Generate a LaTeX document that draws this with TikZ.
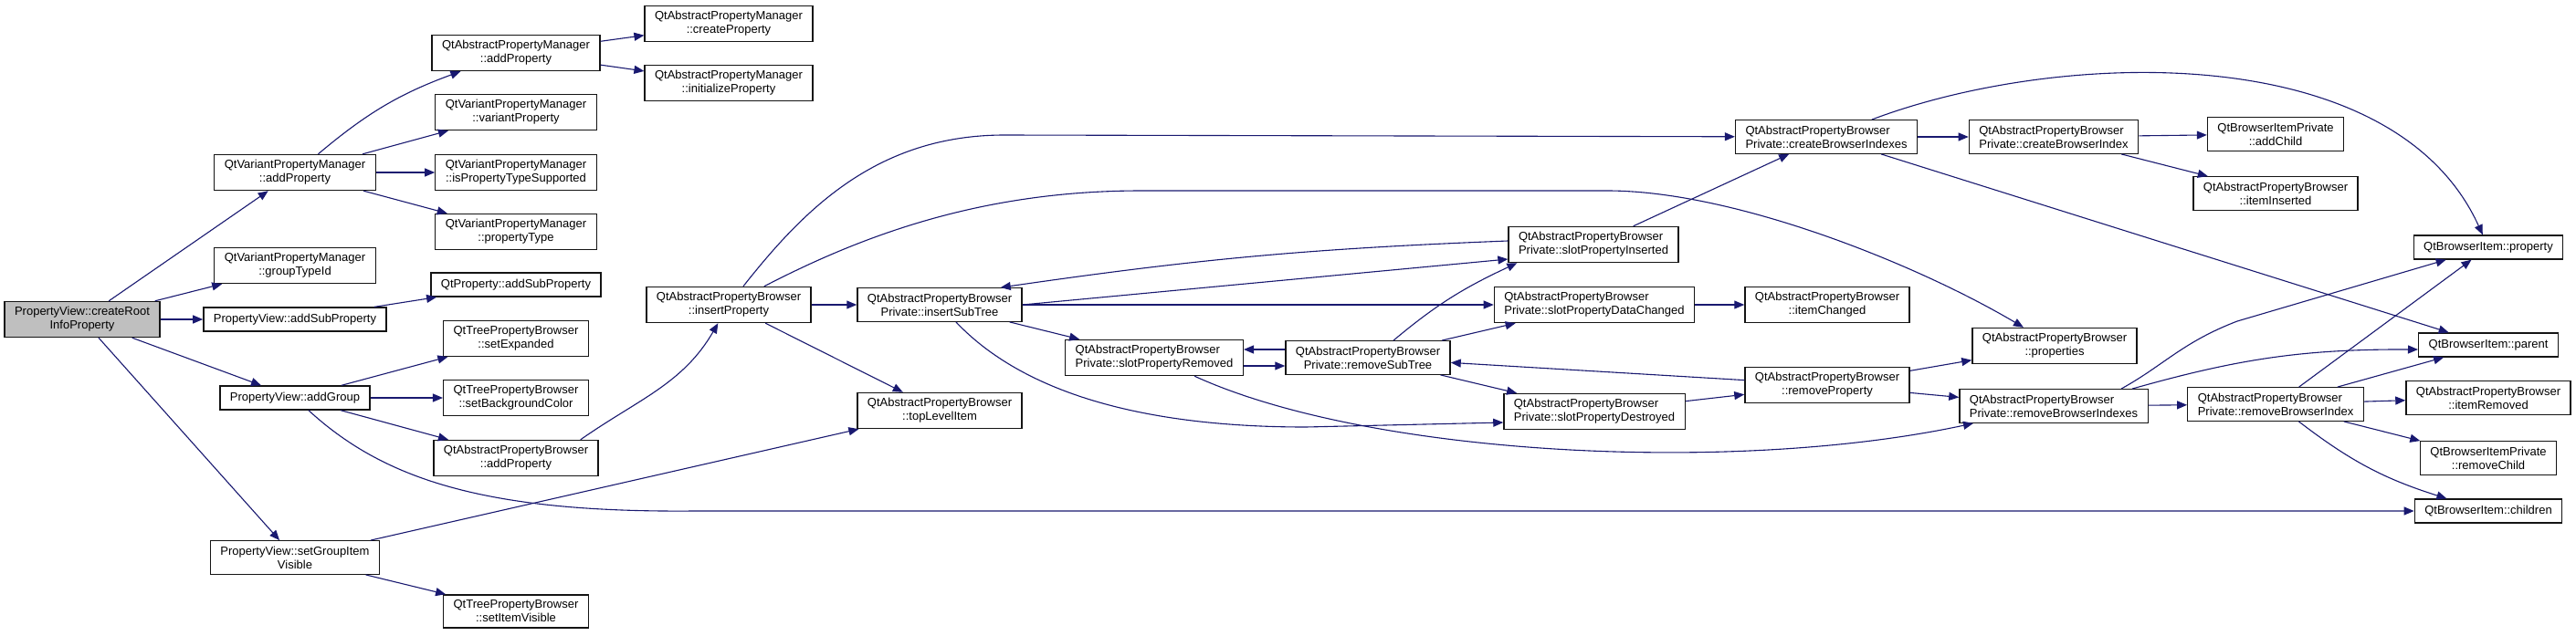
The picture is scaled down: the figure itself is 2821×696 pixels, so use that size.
\documentclass[tikz,border=0pt]{standalone}
\usepackage{fontspec}
\setmainfont{Liberation Sans}
\usepackage{tikz}
\usetikzlibrary{arrows.meta}

\definecolor{edgecolor}{RGB}{25, 25, 112}
\definecolor{rootfill}{RGB}{191, 191, 191}
\definecolor{boxborder}{RGB}{20, 20, 20}

\tikzset{
fnbox/.style={
  draw=boxborder,
  fill=white,
  line width=0.65pt,
  inner xsep=5.5pt,
  inner ysep=3pt,
  minimum height=13pt,
  align=center,
  font=\fontsize{6.5}{7.5}\selectfont
},
fnboxl/.style={
  fnbox,
  align=left
},
rootbox/.style={
  fnbox,
  fill=rootfill
},
call/.style={
  -{Triangle[length=5.5pt,width=4.5pt]},
  line width=0.55pt,
  draw=edgecolor
}
}

\begin{document}
\begin{tikzpicture}[x=0.5pt,y=-0.5pt]
  \path[use as bounding box,fill=white] (0,0) rectangle (2821,696);

  % callers and first level
  \node[rootbox] (root) at (90,350) {PropertyView::createRoot\\InfoProperty};
  \node[fnbox] (vpmAdd) at (323,189) {QtVariantPropertyManager\\::addProperty};
  \node[fnbox] (vpmGroup) at (323,291) {QtVariantPropertyManager\\::groupTypeId};
  \node[fnbox] (pvSub) at (323,350) {PropertyView::addSubProperty};
  \node[fnbox] (pvGroup) at (323,436) {PropertyView::addGroup};
  \node[fnbox] (pvVis) at (323,611) {PropertyView::setGroupItem\\Visible};

  % second column
  \node[fnbox] (apmAdd) at (565,58) {QtAbstractPropertyManager\\::addProperty};
  \node[fnbox] (vpmVar) at (565,123) {QtVariantPropertyManager\\::variantProperty};
  \node[fnbox] (vpmSupp) at (565,189) {QtVariantPropertyManager\\::isPropertyTypeSupported};
  \node[fnbox] (vpmType) at (565,254) {QtVariantPropertyManager\\::propertyType};
  \node[fnbox] (qpSub) at (565,312) {QtProperty::addSubProperty};
  \node[fnbox] (tpbExp) at (565,371) {QtTreePropertyBrowser\\::setExpanded};
  \node[fnbox] (tpbBg) at (565,436) {QtTreePropertyBrowser\\::setBackgroundColor};
  \node[fnbox] (apbAdd) at (565,502) {QtAbstractPropertyBrowser\\::addProperty};
  \node[fnbox] (tpbVis) at (565,670) {QtTreePropertyBrowser\\::setItemVisible};

  \node[fnbox] (apmCreate) at (798,26) {QtAbstractPropertyManager\\::createProperty};
  \node[fnbox] (apmInit) at (798,91) {QtAbstractPropertyManager\\::initializeProperty};
  \node[fnbox] (apbInsert) at (798,334) {QtAbstractPropertyBrowser\\::insertProperty};
  \node[fnbox] (insSub) at (1029,334) {QtAbstractPropertyBrowser\\Private::insertSubTree};
  \node[fnbox] (topItem) at (1029,450) {QtAbstractPropertyBrowser\\::topLevelItem};
  \node[fnboxl] (slotRem) at (1264,392) {QtAbstractPropertyBrowser\\Private::slotPropertyRemoved};
  \node[fnbox] (remSub) at (1498,392) {QtAbstractPropertyBrowser\\Private::removeSubTree};
  \node[fnboxl] (slotIns) at (1745,268) {QtAbstractPropertyBrowser\\Private::slotPropertyInserted};
  \node[fnboxl] (slotData) at (1746,334) {QtAbstractPropertyBrowser\\Private::slotPropertyDataChanged};
  \node[fnboxl] (slotDes) at (1746,451) {QtAbstractPropertyBrowser\\Private::slotPropertyDestroyed};
  \node[fnbox] (itemChanged) at (2001,334) {QtAbstractPropertyBrowser\\::itemChanged};
  \node[fnbox] (remProp) at (2001,422) {QtAbstractPropertyBrowser\\::removeProperty};
  \node[fnboxl] (crIdxs) at (2000,150) {QtAbstractPropertyBrowser\\Private::createBrowserIndexes};
  \node[fnboxl] (crIdx) at (2249,150) {QtAbstractPropertyBrowser\\Private::createBrowserIndex};
  \node[fnbox] (props) at (2250,379) {QtAbstractPropertyBrowser\\::properties};
  \node[fnboxl] (rmIdxs) at (2249,445) {QtAbstractPropertyBrowser\\Private::removeBrowserIndexes};
  \node[fnbox] (addChild) at (2492,147) {QtBrowserItemPrivate\\::addChild};
  \node[fnbox] (itemIns) at (2492,212) {QtAbstractPropertyBrowser\\::itemInserted};
  \node[fnboxl] (rmIdx) at (2492,443) {QtAbstractPropertyBrowser\\Private::removeBrowserIndex};
  \node[fnbox] (biProp) at (2725,271) {QtBrowserItem::property};
  \node[fnbox] (biParent) at (2725,378) {QtBrowserItem::parent};
  \node[fnbox] (itemRem) at (2725,436) {QtAbstractPropertyBrowser\\::itemRemoved};
  \node[fnbox] (rmChild) at (2725,502) {QtBrowserItemPrivate\\::removeChild};
  \node[fnbox] (biChildren) at (2725,560) {QtBrowserItem::children};

  % calls
  \draw[call] (root) -- (vpmAdd);
  \draw[call] (root) -- (vpmGroup);
  \draw[call] (root) -- (pvSub);
  \draw[call] (root) -- (pvGroup);
  \draw[call] (root) -- (pvVis);
  \draw[call] (vpmAdd) to[bend left=10] (apmAdd);
  \draw[call] (vpmAdd) -- (vpmVar);
  \draw[call] (vpmAdd) -- (vpmSupp);
  \draw[call] (vpmAdd) -- (vpmType);
  \draw[call] (apmAdd) -- (apmCreate);
  \draw[call] (apmAdd) -- (apmInit);
  \draw[call] (pvSub) -- (qpSub);
  \draw[call] (pvGroup) -- (tpbExp);
  \draw[call] (pvGroup) -- (tpbBg);
  \draw[call] (pvGroup) -- (apbAdd);
  \draw[call] (pvGroup) .. controls (420,525) and (530,562) .. (760,560) -- (biChildren);
  \draw[call] (pvVis) -- (topItem);
  \draw[call] (pvVis) -- (tpbVis);
  \draw[call] ([xshift=-10pt]apbAdd.north east) to[out=35,in=-120] (apbInsert);

  \draw[call] (apbInsert) -- (insSub);
  \draw[call] (apbInsert) -- (topItem);
  \draw[call] (apbInsert) .. controls (880,230) and (960,148) .. (1100,148) -- (crIdxs);
  \draw[call] (apbInsert) .. controls (950,255) and (1080,209) .. (1250,209) -- (1760,209)
    .. controls (1900,209) and (2100,290) .. (props);
  \draw[call] (insSub) -- (slotRem);
  \draw[call] (insSub.east) -- ([yshift=-8pt]slotIns.west);
  \draw[call] (insSub) -- (slotData);
  \draw[call] (insSub) .. controls (1120,430) and (1250,468) .. (1430,468) -- ([yshift=-6pt]slotDes.west);
  \draw[call] ([yshift=2pt]slotIns.west) to[bend right=3] ([xshift=-12pt]insSub.north east);
  \draw[call] (slotIns) -- (crIdxs);
  \draw[call] ([yshift=-4.5pt]slotRem.east) -- ([yshift=-4.5pt]remSub.west);
  \draw[call] ([yshift=4.5pt]remSub.west) -- ([yshift=4.5pt]slotRem.east);
  \draw[call] (slotRem) .. controls (1500,500) and (1900,520) .. (rmIdxs);
  \draw[call] ([xshift=14pt]remSub.north) to[out=40,in=205] ([xshift=5pt]slotIns.south west);
  \draw[call] (remSub) -- (slotData);
  \draw[call] (remSub) -- (slotDes);
  \draw[call] (slotData) -- (itemChanged);
  \draw[call] (slotDes) -- (remProp);
  \draw[call] (remProp) -- (remSub);
  \draw[call] (remProp) -- (props);
  \draw[call] (remProp) -- (rmIdxs);

  \draw[call] (crIdxs) -- (crIdx);
  \draw[call] (crIdxs) .. controls (2250,55) and (2620,40) .. (biProp);
  \draw[call] (crIdxs) -- (biParent);
  \draw[call] (crIdx) -- (addChild);
  \draw[call] (crIdx) -- (itemIns);
  \draw[call] (rmIdxs) -- (rmIdx);
  \draw[call] ([xshift=37pt]rmIdxs.north) .. controls (2370,400) and (2390,375) .. (2450,352) -- (biProp);
  \draw[call] ([xshift=43pt]rmIdxs.north) to[bend left=8] ([yshift=-2.5pt]biParent.west);
  \draw[call] (rmIdx) -- (biProp);
  \draw[call] (rmIdx) -- (biParent);
  \draw[call] (rmIdx) -- (itemRem);
  \draw[call] (rmIdx) -- (rmChild);
  \draw[call] (rmIdx) to[bend right=10] (biChildren);
\end{tikzpicture}
\end{document}
